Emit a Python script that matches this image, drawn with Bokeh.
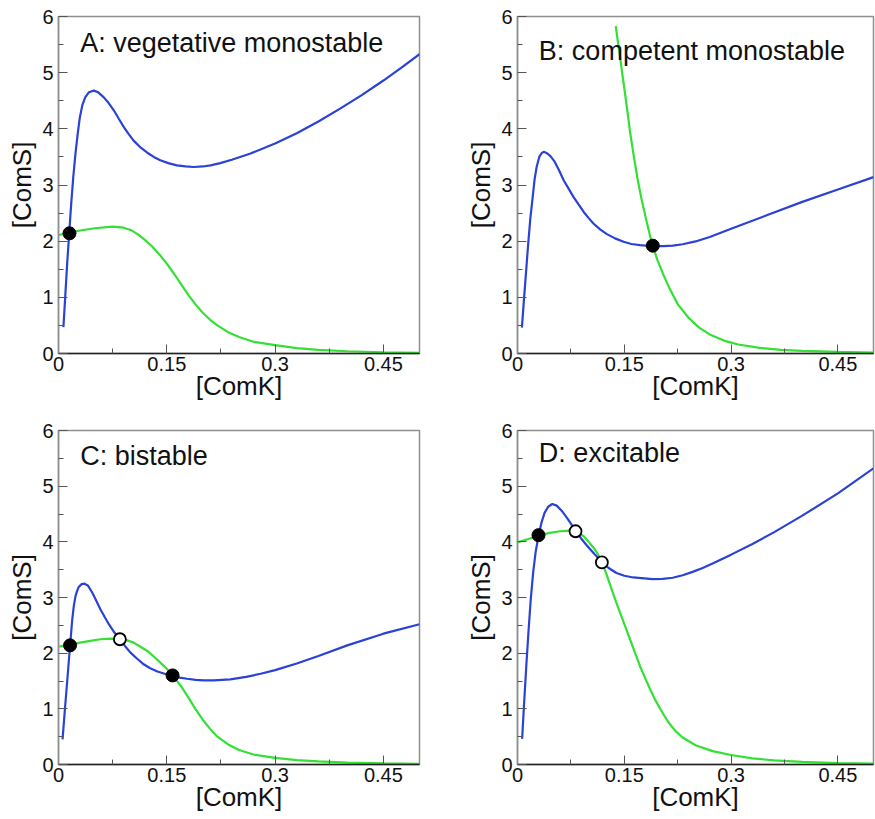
from bokeh.plotting import figure
from bokeh.layouts import gridplot
from bokeh.models import Range1d, FixedTicker, NumeralTickFormatter, Label
from bokeh.embed import file_html
from bokeh.resources import INLINE

# ---------------- data ----------------
x_ticks = [0, 0.15, 0.3, 0.45]
x_minor = [0.075, 0.225, 0.375]
y_ticks = [0, 1, 2, 3, 4, 5, 6]
y_minor = [0.5, 1.5, 2.5, 3.5, 4.5, 5.5]
x_label = "[ComK]"
y_label = "[ComS]"
titles = ["A: vegetative monostable", "B: competent monostable", "C: bistable", "D: excitable"]

# Panel A
a_blue_x = [0.0068, 0.0095, 0.012, 0.0148, 0.0175, 0.0205, 0.0235, 0.0265, 0.0295, 0.033, 0.037,
            0.042, 0.0489, 0.055, 0.0628, 0.07, 0.0766, 0.0835, 0.0905, 0.097, 0.104, 0.113, 0.123,
            0.132, 0.141, 0.152, 0.164, 0.176, 0.187, 0.2, 0.2105, 0.224, 0.24, 0.266, 0.3, 0.33,
            0.36, 0.39, 0.42, 0.45, 0.475, 0.5]
a_blue_y = [0.47, 1.05, 1.6, 2.14, 2.65, 3.15, 3.56, 3.9, 4.2, 4.42, 4.56,
            4.65, 4.68, 4.65, 4.56, 4.45, 4.33, 4.18, 4.03, 3.91, 3.79, 3.675, 3.575,
            3.5, 3.44, 3.39, 3.35, 3.33, 3.32, 3.33, 3.35, 3.39, 3.45, 3.56, 3.74, 3.92,
            4.13, 4.36, 4.6, 4.86, 5.09, 5.33]
a_green_x = [0, 0.015, 0.03, 0.05, 0.075, 0.09, 0.1, 0.11, 0.12, 0.13, 0.14, 0.15, 0.16, 0.17,
             0.18, 0.19, 0.2, 0.21, 0.22, 0.235, 0.25, 0.27, 0.3, 0.33, 0.36, 0.4, 0.45, 0.5]
a_green_y = [2.11, 2.15, 2.19, 2.23, 2.26, 2.24, 2.2, 2.12, 2.02, 1.9, 1.76, 1.6, 1.42, 1.23,
             1.04, 0.87, 0.72, 0.6, 0.5, 0.38, 0.295, 0.21, 0.15, 0.095, 0.065, 0.04, 0.022, 0.013]
a_stable_x = [0.0152]
a_stable_y = [2.14]
a_unstable_x = []
a_unstable_y = []

# Panel B
b_blue_x = [0.0062, 0.009, 0.012, 0.015, 0.018, 0.0213, 0.024, 0.027, 0.0306, 0.034, 0.0375,
            0.042, 0.0465, 0.0514, 0.058, 0.065, 0.072, 0.079, 0.086, 0.093, 0.1, 0.107, 0.116,
            0.125, 0.137, 0.149, 0.16, 0.172, 0.19, 0.205, 0.218, 0.232, 0.25, 0.27, 0.3, 0.35,
            0.4, 0.45, 0.5]
b_blue_y = [0.46, 0.95, 1.45, 1.95, 2.4, 2.78, 3.1, 3.33, 3.5, 3.57, 3.59,
            3.56, 3.51, 3.43, 3.27, 3.08, 2.93, 2.78, 2.65, 2.52, 2.41, 2.31, 2.21,
            2.13, 2.05, 1.99, 1.95, 1.93, 1.91, 1.91, 1.92, 1.945, 1.995, 2.075, 2.22, 2.46,
            2.7, 2.92, 3.14]
b_green_x = [0.138, 0.141, 0.144, 0.1475, 0.151, 0.1545, 0.158, 0.1635, 0.169, 0.175, 0.181,
             0.1855, 0.19, 0.197, 0.205, 0.215, 0.225, 0.24, 0.255, 0.27, 0.29, 0.31, 0.34,
             0.37, 0.4, 0.45, 0.5]
b_green_y = [5.83, 5.55, 5.28, 4.95, 4.63, 4.3, 3.95, 3.5, 3.08, 2.7, 2.37,
             2.13, 1.91, 1.65, 1.4, 1.12, 0.88, 0.64, 0.46, 0.34, 0.23, 0.16, 0.1,
             0.065, 0.045, 0.028, 0.018]
b_stable_x = [0.19]
b_stable_y = [1.92]
b_unstable_x = []
b_unstable_y = []

# Panel C
c_blue_x = [0.0056, 0.0085, 0.0115, 0.014, 0.016, 0.019, 0.0212, 0.0235, 0.0258, 0.028, 0.032,
            0.036, 0.041, 0.0467, 0.052, 0.058, 0.064, 0.0697, 0.077, 0.085, 0.092, 0.0997,
            0.109, 0.118, 0.127, 0.137, 0.147, 0.158, 0.168, 0.178, 0.19, 0.201, 0.215, 0.238,
            0.26, 0.28, 0.3, 0.33, 0.36, 0.4, 0.45, 0.5]
c_blue_y = [0.45, 0.93, 1.41, 1.81, 2.13, 2.6, 2.85, 3.02, 3.12, 3.19, 3.24,
            3.25, 3.21, 3.09, 2.95, 2.79, 2.65, 2.52, 2.38, 2.25, 2.13, 2.01,
            1.9, 1.8, 1.73, 1.67, 1.63, 1.59, 1.56, 1.54, 1.52, 1.51, 1.51, 1.53,
            1.575, 1.63, 1.695, 1.815, 1.95, 2.14, 2.35, 2.52]
c_green_x = [0, 0.0166, 0.03, 0.044, 0.058, 0.072, 0.085, 0.095, 0.104, 0.113, 0.123, 0.132,
             0.141, 0.15, 0.158, 0.169, 0.18, 0.19, 0.2, 0.21, 0.22, 0.235, 0.25, 0.27, 0.3,
             0.33, 0.36, 0.4, 0.45, 0.5]
c_green_y = [2.12, 2.15, 2.19, 2.22, 2.25, 2.26, 2.25, 2.23, 2.19, 2.12, 2.04, 1.94,
             1.83, 1.72, 1.6, 1.42, 1.2, 0.99, 0.8, 0.64, 0.5, 0.36, 0.26, 0.18, 0.12,
             0.08, 0.056, 0.035, 0.021, 0.013]
c_stable_x = [0.016, 0.158]
c_stable_y = [2.14, 1.6]
c_unstable_x = [0.085]
c_unstable_y = [2.25]

# Panel D
d_blue_x = [0.0065, 0.0095, 0.0125, 0.0155, 0.0185, 0.022, 0.0255, 0.0297, 0.034, 0.038, 0.043,
            0.0489, 0.055, 0.062, 0.07, 0.0815, 0.09, 0.0977, 0.108, 0.1185, 0.128, 0.139, 0.15,
            0.1625, 0.19, 0.204, 0.218, 0.232, 0.246, 0.26, 0.274, 0.3, 0.33, 0.36, 0.4, 0.45, 0.5]
d_blue_y = [0.46, 1.15, 1.8, 2.4, 2.95, 3.45, 3.82, 4.12, 4.36, 4.52, 4.63,
            4.68, 4.65, 4.56, 4.42, 4.2, 4.05, 3.93, 3.78, 3.64, 3.53, 3.44, 3.39,
            3.36, 3.33, 3.335, 3.355, 3.4, 3.46, 3.53, 3.61, 3.77, 3.96, 4.17, 4.47, 4.87, 5.32]
d_green_x = [0, 0.015, 0.0297, 0.045, 0.06, 0.072, 0.0815, 0.093, 0.1, 0.107, 0.113, 0.1185,
             0.124, 0.13, 0.137, 0.144, 0.151, 0.158, 0.165, 0.172, 0.179, 0.186, 0.193, 0.2,
             0.206, 0.213, 0.222, 0.232, 0.25, 0.274, 0.3, 0.33, 0.36, 0.4, 0.45, 0.5]
d_green_y = [3.99, 4.05, 4.11, 4.16, 4.19, 4.2, 4.19, 4.1, 4.0, 3.89, 3.78, 3.63,
             3.45, 3.23, 2.97, 2.73, 2.49, 2.25, 2.01, 1.77, 1.56, 1.36, 1.17, 1.01,
             0.88, 0.74, 0.6, 0.485, 0.345, 0.24, 0.17, 0.11, 0.075, 0.046, 0.026, 0.015]
d_stable_x = [0.0295]
d_stable_y = [4.12]
d_unstable_x = [0.0815, 0.1185]
d_unstable_y = [4.19, 3.63]

# ---------------- styling ----------------
FONT = "Liberation Sans"
BLUE = "#2a42d6"
GREEN = "#33e033"
GREY = "#8f8f8f"


def make_panel(title, title_y, bx, by, gx, gy, sx, sy, ux, uy, width, height,
               border_left, border_right, border_top, border_bottom):
    p = figure(width=width, height=height, x_range=Range1d(0, 0.5), y_range=Range1d(0, 6),
               output_backend="svg", toolbar_location=None,
               min_border_left=border_left, min_border_right=border_right,
               min_border_top=border_top, min_border_bottom=border_bottom)
    p.grid.visible = False
    p.outline_line_color = GREY
    p.outline_line_width = 1.5
    p.background_fill_color = "white"
    p.border_fill_color = "white"

    for ax in (p.xaxis[0], p.yaxis[0]):
        ax.major_tick_in = 9
        ax.major_tick_out = 0
        ax.minor_tick_in = 5
        ax.minor_tick_out = 0
        ax.major_label_text_font = FONT
        ax.major_label_text_font_size = "20px"
        ax.major_label_text_color = "#111111"
        ax.axis_label_text_font = FONT
        ax.axis_label_text_font_size = "26px"
        ax.axis_label_text_font_style = "normal"
        ax.axis_label_text_color = "#111111"
        ax.major_tick_line_color = "#555555"
        ax.minor_tick_line_color = "#555555"
        ax.formatter = NumeralTickFormatter(format="0.[00]")

    p.xaxis[0].ticker = FixedTicker(ticks=x_ticks, minor_ticks=x_minor)
    p.yaxis[0].ticker = FixedTicker(ticks=y_ticks, minor_ticks=y_minor)
    p.xaxis[0].axis_line_color = "#222222"
    p.xaxis[0].axis_line_width = 1.5
    p.yaxis[0].axis_line_color = GREY
    p.yaxis[0].axis_line_width = 1.5
    p.xaxis[0].major_label_standoff = 3
    p.xaxis[0].axis_label_standoff = -3
    p.yaxis[0].major_label_standoff = 5
    p.yaxis[0].axis_label_standoff = 2
    p.xaxis[0].axis_label = x_label
    p.yaxis[0].axis_label = y_label

    p.line(gx, gy, line_color=GREEN, line_width=2.2)
    p.line(bx, by, line_color=BLUE, line_width=2.2)
    if sx:
        p.scatter(sx, sy, size=13, fill_color="black", line_color="black")
    if ux:
        p.scatter(ux, uy, size=12, fill_color="white", line_color="black", line_width=1.8)

    p.add_layout(Label(x=0.03, y=title_y, text=title, text_font=FONT, text_font_size="27px",
                       text_baseline="middle", text_align="left", text_color="#111111"))
    return p


pa = make_panel(titles[0], 5.52, a_blue_x, a_blue_y, a_green_x, a_green_y,
                a_stable_x, a_stable_y, a_unstable_x, a_unstable_y, 463, 420, 58, 44, 16, 67)
pb = make_panel(titles[1], 5.39, b_blue_x, b_blue_y, b_green_x, b_green_y,
                b_stable_x, b_stable_y, b_unstable_x, b_unstable_y, 412, 420, 50, 2, 16, 67)
pc = make_panel(titles[2], 5.55, c_blue_x, c_blue_y, c_green_x, c_green_y,
                c_stable_x, c_stable_y, c_unstable_x, c_unstable_y, 463, 399, 58, 44, 10, 55)
pd = make_panel(titles[3], 5.59, d_blue_x, d_blue_y, d_green_x, d_green_y,
                d_stable_x, d_stable_y, d_unstable_x, d_unstable_y, 412, 399, 50, 2, 10, 55)

grid = gridplot([[pa, pb], [pc, pd]], toolbar_location=None)

open("out.html", "w").write(file_html(grid, INLINE))
